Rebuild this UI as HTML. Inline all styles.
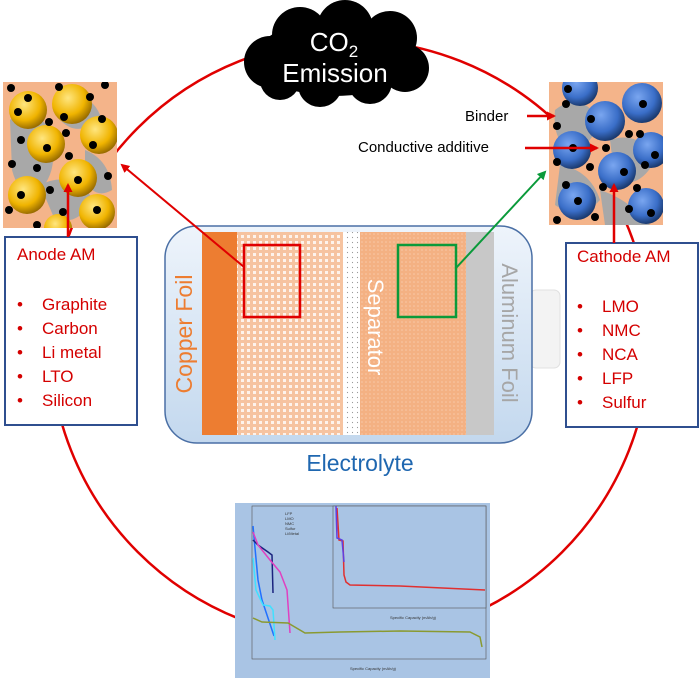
<!DOCTYPE html>
<html><head><meta charset="utf-8"><style>
html,body{margin:0;padding:0;background:#fff;}
svg{display:block;font-family:"Liberation Sans",sans-serif;}
</style></head><body>
<svg width="700" height="681" viewBox="0 0 700 681" xmlns="http://www.w3.org/2000/svg">
<defs>
<radialGradient id="yb" cx="0.4" cy="0.35" r="0.7"><stop offset="0" stop-color="#ffe680"/><stop offset="0.6" stop-color="#f0b400"/><stop offset="1" stop-color="#8a6000"/></radialGradient>
<radialGradient id="bb" cx="0.4" cy="0.35" r="0.7"><stop offset="0" stop-color="#7aa6f0"/><stop offset="0.6" stop-color="#3a6ec8"/><stop offset="1" stop-color="#15305e"/></radialGradient>
<linearGradient id="cell" x1="0" y1="0" x2="0" y2="1"><stop offset="0" stop-color="#eef4fb"/><stop offset="1" stop-color="#c3d8ee"/></linearGradient>
<pattern id="dotA" width="6" height="6" patternUnits="userSpaceOnUse"><rect width="6" height="6" fill="#f6c3a0"/><rect x="1" y="1" width="3" height="3" fill="#fff" opacity="0.8"/></pattern>
<pattern id="dotC" width="4" height="4" patternUnits="userSpaceOnUse"><rect width="4" height="4" fill="#f4b183"/><circle cx="2" cy="2" r="0.8" fill="#f8c9a8"/></pattern>
<pattern id="dotS" width="5" height="5" patternUnits="userSpaceOnUse"><rect width="5" height="5" fill="#fff"/><circle cx="2.5" cy="2.5" r="0.6" fill="#999"/></pattern>
<marker id="ar" markerWidth="9" markerHeight="9" refX="7" refY="4.5" orient="auto" markerUnits="userSpaceOnUse"><path d="M0,0 L9,4.5 L0,9 z" fill="#e00000"/></marker>
<marker id="ag" markerWidth="9" markerHeight="9" refX="7" refY="4.5" orient="auto" markerUnits="userSpaceOnUse"><path d="M0,0 L9,4.5 L0,9 z" fill="#0a9a3a"/></marker>
<clipPath id="ca"><rect x="3" y="82" width="114" height="146"/></clipPath>
<clipPath id="cc"><rect x="549" y="82" width="114" height="143"/></clipPath>
</defs>

<!-- big circle -->
<circle cx="350" cy="340" r="300" fill="none" stroke="#e00000" stroke-width="2.5"/>

<!-- cloud -->
<g fill="#000">
<circle cx="270" cy="62" r="26"/><circle cx="300" cy="35" r="28"/><circle cx="345" cy="28" r="28"/><circle cx="390" cy="38" r="27"/><circle cx="405" cy="68" r="24"/><circle cx="370" cy="82" r="22"/><circle cx="320" cy="85" r="22"/><circle cx="280" cy="80" r="20"/><ellipse cx="335" cy="58" rx="80" ry="38"/>
</g>
<text x="334" y="51" fill="#fff" font-size="26" text-anchor="middle">CO<tspan font-size="17" dy="6">2</tspan></text>
<text x="335" y="82" fill="#fff" font-size="26" text-anchor="middle">Emission</text>

<!-- anode image -->
<g clip-path="url(#ca)">
<rect x="3" y="82" width="114" height="146" fill="#f4b48a"/>
<g fill="#a8a8a8"><path d="M10,120 Q30,100 50,130 Q60,170 40,190 Q20,200 12,170z"/><path d="M60,100 Q90,90 100,115 Q80,140 60,120z"/><path d="M40,185 Q70,170 90,195 Q85,225 55,220z"/><path d="M85,150 Q110,160 112,190 Q95,200 85,180z"/></g>
<g fill="url(#yb)"><circle cx="28" cy="110" r="19"/><circle cx="72" cy="104" r="20"/><circle cx="99" cy="135" r="19"/><circle cx="46" cy="144" r="19"/><circle cx="78" cy="178" r="19"/><circle cx="27" cy="195" r="19"/><circle cx="97" cy="212" r="18"/><circle cx="58" cy="228" r="14"/></g>
<g fill="#000"><circle cx="11" cy="88" r="4"/><circle cx="59" cy="87" r="4"/><circle cx="105" cy="85" r="4"/><circle cx="28" cy="98" r="4"/><circle cx="18" cy="112" r="4"/><circle cx="90" cy="97" r="4"/><circle cx="64" cy="117" r="4"/><circle cx="49" cy="122" r="4"/><circle cx="102" cy="119" r="4"/><circle cx="66" cy="133" r="4"/><circle cx="21" cy="140" r="4"/><circle cx="47" cy="148" r="4"/><circle cx="93" cy="145" r="4"/><circle cx="69" cy="156" r="4"/><circle cx="12" cy="164" r="4"/><circle cx="37" cy="168" r="4"/><circle cx="78" cy="180" r="4"/><circle cx="108" cy="176" r="4"/><circle cx="21" cy="195" r="4"/><circle cx="50" cy="190" r="4"/><circle cx="9" cy="210" r="4"/><circle cx="63" cy="212" r="4"/><circle cx="97" cy="210" r="4"/><circle cx="37" cy="225" r="4"/></g>
</g>

<!-- cathode image -->
<g clip-path="url(#cc)">
<rect x="549" y="82" width="114" height="143" fill="#f4b48a"/>
<g fill="#a8a8a8"><path d="M555,110 Q580,90 600,120 Q590,150 570,150 Q552,140 555,110z"/><path d="M560,165 Q590,170 600,200 Q580,222 555,205z"/><path d="M610,140 Q640,130 655,160 Q640,190 615,180z"/><path d="M600,190 Q630,200 650,225 L605,225z"/></g>
<g fill="url(#bb)"><circle cx="580" cy="88" r="18"/><circle cx="642" cy="103" r="20"/><circle cx="605" cy="121" r="20"/><circle cx="572" cy="150" r="19"/><circle cx="651" cy="150" r="18"/><circle cx="617" cy="171" r="19"/><circle cx="577" cy="201" r="19"/><circle cx="646" cy="206" r="18"/></g>
<g fill="#000"><circle cx="568" cy="89" r="4"/><circle cx="643" cy="104" r="4"/><circle cx="566" cy="104" r="4"/><circle cx="591" cy="119" r="4"/><circle cx="557" cy="126" r="4"/><circle cx="629" cy="134" r="4"/><circle cx="640" cy="134" r="4"/><circle cx="606" cy="148" r="4"/><circle cx="573" cy="148" r="4"/><circle cx="655" cy="155" r="4"/><circle cx="557" cy="162" r="4"/><circle cx="590" cy="167" r="4"/><circle cx="624" cy="172" r="4"/><circle cx="645" cy="165" r="4"/><circle cx="566" cy="185" r="4"/><circle cx="603" cy="187" r="4"/><circle cx="637" cy="188" r="4"/><circle cx="578" cy="201" r="4"/><circle cx="629" cy="209" r="4"/><circle cx="557" cy="220" r="4"/><circle cx="595" cy="217" r="4"/><circle cx="651" cy="213" r="4"/></g>
</g>

<text x="465" y="121" font-size="15" fill="#000">Binder</text>
<line x1="527" y1="116" x2="554" y2="116" stroke="#e00000" stroke-width="2.5" marker-end="url(#ar)"/>
<text x="358" y="152" font-size="15" fill="#000">Conductive additive</text>
<line x1="525" y1="148" x2="597" y2="148" stroke="#e00000" stroke-width="2.5" marker-end="url(#ar)"/>

<!-- anode box -->
<rect x="5" y="237" width="132" height="188" fill="#fff" stroke="#2f4f8f" stroke-width="2"/>
<line x1="68" y1="237" x2="68" y2="185" stroke="#e00000" stroke-width="2.5" marker-end="url(#ar)"/>
<g fill="#d40000" font-size="17"><text x="17" y="260">Anode AM</text>
<text x="17" y="310">•</text><text x="42" y="310">Graphite</text>
<text x="17" y="334">•</text><text x="42" y="334">Carbon</text>
<text x="17" y="358">•</text><text x="42" y="358">Li metal</text>
<text x="17" y="382">•</text><text x="42" y="382">LTO</text>
<text x="17" y="406">•</text><text x="42" y="406">Silicon</text></g>

<!-- cathode box -->
<rect x="566" y="243" width="132" height="184" fill="#fff" stroke="#2f4f8f" stroke-width="2"/>
<line x1="614" y1="243" x2="614" y2="185" stroke="#e00000" stroke-width="2.5" marker-end="url(#ar)"/>
<g fill="#d40000" font-size="17"><text x="577" y="262">Cathode AM</text>
<text x="577" y="312">•</text><text x="602" y="312">LMO</text>
<text x="577" y="336">•</text><text x="602" y="336">NMC</text>
<text x="577" y="360">•</text><text x="602" y="360">NCA</text>
<text x="577" y="384">•</text><text x="602" y="384">LFP</text>
<text x="577" y="408">•</text><text x="602" y="408">Sulfur</text></g>

<!-- battery -->
<rect x="530" y="290" width="30" height="78" rx="6" fill="#f3f3f3" stroke="#e0e0e0"/>
<rect x="165" y="226" width="367" height="217" rx="32" fill="url(#cell)" stroke="#4a6fa5" stroke-width="1.5"/>
<rect x="202" y="232" width="35" height="203" fill="#ed7d31"/>
<rect x="237" y="232" width="106" height="203" fill="url(#dotA)"/>
<rect x="343" y="232" width="17" height="203" fill="url(#dotS)"/>
<rect x="360" y="232" width="106" height="203" fill="url(#dotC)"/>
<rect x="466" y="232" width="28" height="203" fill="#c8c8c8"/>
<text transform="translate(192,334) rotate(-90)" font-size="23" fill="#ed7d31" text-anchor="middle">Copper Foil</text>
<text transform="translate(368,327) rotate(90)" font-size="22" fill="#fff" text-anchor="middle">Separator</text>
<text transform="translate(502,333) rotate(90)" font-size="22" fill="#a6a6a6" text-anchor="middle">Aluminum Foil</text>
<rect x="244" y="245" width="56" height="72" fill="none" stroke="#e00000" stroke-width="2.5"/>
<rect x="398" y="245" width="58" height="72" fill="none" stroke="#0a9a3a" stroke-width="2.5"/>
<line x1="244" y1="267" x2="122" y2="165" stroke="#e00000" stroke-width="2" marker-end="url(#ar)"/>
<line x1="456" y1="268" x2="545" y2="172" stroke="#0a9a3a" stroke-width="2" marker-end="url(#ag)"/>
<text x="360" y="471" font-size="23" fill="#1f67b0" text-anchor="middle">Electrolyte</text>

<!-- chart -->
<rect x="235" y="503" width="255" height="175" fill="#a9c4e4"/>
<rect x="252" y="506" width="234" height="153" fill="none" stroke="#555" stroke-width="0.6"/>
<rect x="333" y="506" width="153" height="102" fill="#a9c4e4" stroke="#555" stroke-width="0.6"/>
<g fill="none" stroke-width="1.5">
<polyline points="253,526 255,548 258,580 262,600 268,618 274,636" stroke="#2070ff"/>
<polyline points="253,558 256,590 263,605 270,606 273,610 275,640" stroke="#40e0ff"/>
<polyline points="253,540 258,545 268,552 272,555 273,593" stroke="#1a237e"/>
<polyline points="253,532 258,545 270,560 280,572 287,590 290,633" stroke="#e040c0"/>
<polyline points="253,618 262,622 288,623 305,633 340,632 400,631 470,632 480,637 482,647" stroke="#8a9a30"/>
<polyline points="337,508 339,540 343,541 344,575 346,582 350,585 400,586 485,590" stroke="#e03030"/>
<polyline points="336,506 337,538 342,540 344,562" stroke="#6040e0"/>
</g>
<g font-size="4" fill="#333"><text x="285" y="515">LFP</text><text x="285" y="520">LMO</text><text x="285" y="525">NMC</text><text x="285" y="530">Sulfur</text><text x="285" y="535">Li/Metal</text>
<text x="350" y="670">Specific Capacity (mAh/g)</text><text x="390" y="619">Specific Capacity (mAh/g)</text></g>
</svg>
</body></html>
